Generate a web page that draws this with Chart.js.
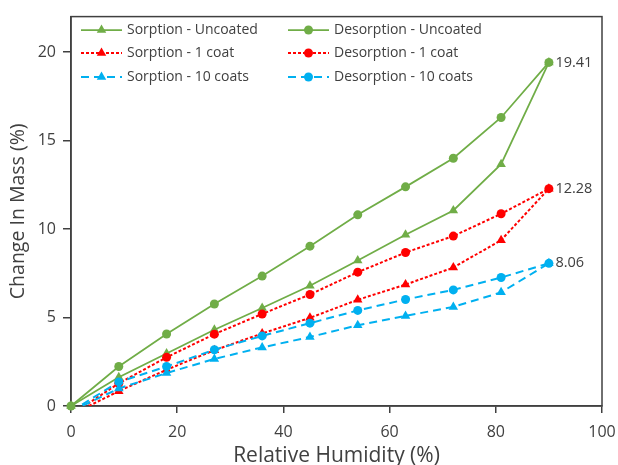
<!DOCTYPE html>
<html>
<head>
<meta charset="utf-8">
<script src="https://cdn.jsdelivr.net/npm/chart.js@4"></script>
<style>
html, body { margin: 0; padding: 0; background: #fff; }
</style>
</head>
<body>
<canvas id="massChart" width="618" height="465"></canvas>
<script>
// relative humidity steps (%)
var humidity = [0, 9, 18, 27, 36, 45, 54, 63, 72, 81, 90];
// change in mass (%)
var sorptionUncoated = [0, 1.63, 2.97, 4.31, 5.54, 6.79, 8.22, 9.67, 11.05, 13.66, 19.41];
var desorptionUncoated = [0, 2.23, 4.07, 5.76, 7.34, 9.03, 10.8, 12.38, 14.0, 16.3, 19.41];
var sorption1Coat = [-0.5, 0.84, 2.05, 3.15, 4.1, 4.98, 6.0, 6.86, 7.82, 9.37, 12.28];
var desorption1Coat = [-0.5, 1.28, 2.75, 4.06, 5.2, 6.3, 7.56, 8.67, 9.6, 10.86, 12.28];
var sorption10Coats = [-0.3, 0.99, 1.86, 2.66, 3.31, 3.9, 4.56, 5.09, 5.6, 6.42, 8.06];
var desorption10Coats = [-0.3, 1.36, 2.23, 3.18, 3.96, 4.68, 5.4, 6.02, 6.56, 7.26, 8.06];
var endLabels = ['19.41', '12.28', '8.06'];
var xTicks = [0, 20, 40, 60, 80, 100];
var yTicks = [0, 5, 10, 15, 20];

var GREEN = '#70AD47', RED = '#FF0000', BLUE = '#00B0F0';
var TEXT = '#404040', AXIS = '#404040';
var FONT = '"Open Sans", "Liberation Sans", sans-serif';

function pts(values) {
    return humidity.map(function(h, i) { return { x: h, y: values[i] }; });
}

function series(label, values, color, style, dash, order) {
    return {
        label: label,
        data: pts(values),
        borderColor: color,
        backgroundColor: color,
        borderWidth: dash.length ? 2 : 1.75,
        borderDash: dash,
        pointStyle: style,
        pointRadius: style === 'triangle' ? 5.5 : 4.5,
        pointBorderWidth: 0,
        pointBackgroundColor: color,
        tension: 0,
        order: order,
        clip: values[0] < 0 ? { left: 6, top: 6, right: 6, bottom: 0 } : false
    };
}

var datasets = [
    series('Sorption - Uncoated', sorptionUncoated, GREEN, 'triangle', [], 6),
    series('Desorption - Uncoated', desorptionUncoated, GREEN, 'circle', [], 5),
    series('Sorption - 1 coat', sorption1Coat, RED, 'triangle', [3, 2], 4),
    series('Desorption - 1 coat', desorption1Coat, RED, 'circle', [3, 2], 3),
    series('Sorption - 10 coats', sorption10Coats, BLUE, 'triangle', [8, 5], 2),
    series('Desorption - 10 coats', desorption10Coats, BLUE, 'circle', [8, 5], 1)
];

function drawMarker(ctx, style, x, y, r, color) {
    ctx.fillStyle = color;
    ctx.beginPath();
    if (style === 'triangle') {
        var a = 0;
        ctx.moveTo(x + Math.sin(a) * r, y - Math.cos(a) * r);
        a += Math.PI * 2 / 3;
        ctx.lineTo(x + Math.sin(a) * r, y - Math.cos(a) * r);
        a += Math.PI * 2 / 3;
        ctx.lineTo(x + Math.sin(a) * r, y - Math.cos(a) * r);
        ctx.closePath();
    } else {
        ctx.arc(x, y, r, 0, Math.PI * 2);
    }
    ctx.fill();
}

// plot area border (Excel style box)
var boxPlugin = {
    id: 'plotBox',
    beforeDatasetsDraw: function(chart) {
        var a = chart.chartArea, ctx = chart.ctx;
        ctx.save();
        ctx.strokeStyle = AXIS;
        ctx.lineWidth = 1.5;
        ctx.strokeRect(a.left, a.top, a.right - a.left, a.bottom - a.top);
        ctx.restore();
    }
};

// legend inside the plot, two columns
var legendPlugin = {
    id: 'insideLegend',
    afterDraw: function(chart) {
        var ctx = chart.ctx;
        var cols = [81, 288];
        var rows = [30, 53, 77];
        ctx.save();
        ctx.font = '14px ' + FONT;
        ctx.textBaseline = 'middle';
        chart.data.datasets.forEach(function(ds, i) {
            var x0 = cols[i % 2], y = rows[Math.floor(i / 2)];
            ctx.strokeStyle = ds.borderColor;
            ctx.lineWidth = ds.borderWidth;
            ctx.setLineDash(ds.borderDash);
            ctx.beginPath();
            ctx.moveTo(x0, y);
            ctx.lineTo(x0 + 41, y);
            ctx.stroke();
            ctx.setLineDash([]);
            drawMarker(ctx, ds.pointStyle, x0 + 20.5, y, ds.pointRadius, ds.borderColor);
            ctx.fillStyle = TEXT;
            ctx.fillText(ds.label, x0 + 46, y);
        });
        ctx.restore();
    }
};

// value labels at the end of the desorption curves
var endLabelPlugin = {
    id: 'endLabels',
    afterDatasetsDraw: function(chart) {
        var ctx = chart.ctx;
        ctx.save();
        ctx.font = '14.5px ' + FONT;
        ctx.fillStyle = TEXT;
        ctx.textBaseline = 'middle';
        [1, 3, 5].forEach(function(di, k) {
            var meta = chart.getDatasetMeta(di);
            var p = meta.data[meta.data.length - 1];
            ctx.fillText(endLabels[k], p.x + 6.5, p.y);
        });
        ctx.restore();
    }
};

new Chart(document.getElementById('massChart'), {
    type: 'line',
    data: { datasets: datasets },
    plugins: [boxPlugin, endLabelPlugin, legendPlugin],
    options: {
        responsive: false,
        animation: false,
        devicePixelRatio: 1,
        layout: { padding: { top: 12, right: 16, left: 0, bottom: 0 } },
        plugins: { legend: { display: false }, tooltip: { enabled: false } },
        scales: {
            x: {
                type: 'linear',
                min: 0,
                max: 100,
                afterBuildTicks: function(s) { s.ticks = xTicks.map(function(v) { return { value: v }; }); },
                afterFit: function(s) { s.height = 59; s.paddingLeft = 0; s.paddingRight = 0; },
                border: { color: AXIS, width: 1.5 },
                grid: { drawOnChartArea: false, drawTicks: true, tickLength: 7, color: AXIS, lineWidth: 1.5 },
                ticks: { color: TEXT, font: { family: FONT, size: 16 }, padding: 10, maxRotation: 0 },
                title: { display: true, text: 'Relative Humidity (%)', color: TEXT, font: { family: FONT, size: 21 }, padding: { top: 0, bottom: -4 } }
            },
            y: {
                type: 'linear',
                min: 0,
                max: 22,
                afterBuildTicks: function(s) { s.ticks = yTicks.map(function(v) { return { value: v }; }); },
                afterFit: function(s) { s.width = 71; },
                border: { color: AXIS, width: 1.5 },
                grid: { drawOnChartArea: false, drawTicks: true, tickLength: 8, color: AXIS, lineWidth: 1.5 },
                ticks: { color: TEXT, font: { family: FONT, size: 16 }, padding: 7 },
                title: { display: true, text: 'Change In Mass (%)', color: TEXT, font: { family: FONT, size: 19.5 }, padding: { top: 7, bottom: 0 } }
            }
        }
    }
});
</script>
</body>
</html>
